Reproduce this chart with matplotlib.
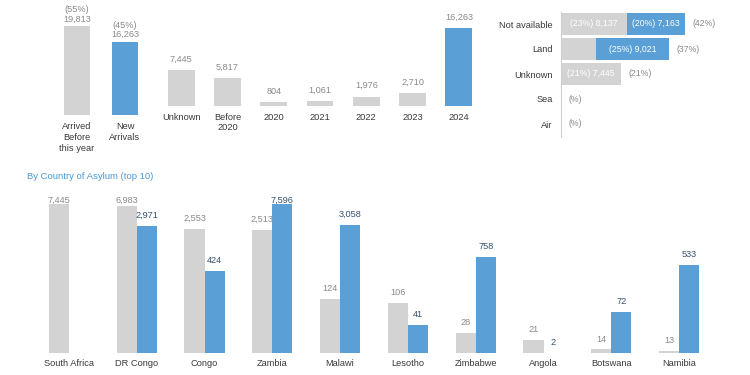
import numpy as np
import matplotlib
matplotlib.use("Agg")
import matplotlib.pyplot as plt
from matplotlib.transforms import blended_transform_factory

plt.rcParams['font.family'] = ['Liberation Sans', 'DejaVu Sans']

GREY = '#d3d3d3'
BLUE = '#5aa0d6'
VAL_GREY = '#8a8a8a'
VAL_DARK = '#35516f'
CAT = '#3a3a3a'
VAL_FS = 6.6
CAT_FS = 6.7

# ---- data ----
arrival_cats = ['Arrived\nBefore\nthis year', 'New\nArrivals']
arrival_vals = [19813, 16263]
arrival_pct = ['55%', '45%']

year_cats = ['Unknown', 'Before\n2020', '2020', '2021', '2022', '2023', '2024']
year_vals = [7445, 5817, 804, 1061, 1976, 2710, 16263]

route_cats = ['Not available', 'Land', 'Unknown', 'Sea', 'Air']
route_before = [8137, 4329, 7445, 0, 0]
route_new = [7163, 9021, 0, 0, 0]
route_before_lbl = ['(23%) 8,137', '', '(21%) 7,445', '', '']
route_new_lbl = ['(20%) 7,163', '(25%) 9,021', '', '', '']
route_total_pct = ['(42%)', '(37%)', '(21%)', '(%)', '(%)']

countries = ['South Africa', 'DR Congo', 'Congo', 'Zambia', 'Malawi',
             'Lesotho', 'Zimbabwe', 'Angola', 'Botswana', 'Namibia']
asylum_before = [7445, 6983, 2553, 2513, 124, 106, 28, 21, 14, 13]
asylum_new = [None, 2971, 424, 7596, 3058, 41, 758, 2, 72, 533]

W, H = 750, 375
fig = plt.figure(figsize=(W / 100, H / 100), dpi=100)


def px_axes(l, t, r, b):
    return fig.add_axes([l / W, 1 - b / H, (r - l) / W, (b - t) / H])


def clean(ax):
    for s in ax.spines.values():
        s.set_visible(False)
    ax.set_yticks([])


# -- arrived before / new arrivals --
ax1 = px_axes(53, 10, 149, 115)
x1 = np.arange(len(arrival_vals))
ax1.bar(x1, arrival_vals, width=0.56, color=[GREY, BLUE])
ax1.set_xlim(-0.5, 1.5)
ax1.set_ylim(0, 23400)
for i, v in enumerate(arrival_vals):
    ax1.annotate(f'({arrival_pct[i]})\n{v:,}', (i, v), xytext=(0, 2),
                 textcoords='offset points', ha='center', va='bottom',
                 fontsize=VAL_FS, color=VAL_GREY, linespacing=1.05)
ax1.set_xticks(x1, arrival_cats, fontsize=CAT_FS, color=CAT, linespacing=1.3)
ax1.tick_params(axis='x', length=0, pad=5)
clean(ax1)

# -- by year of arrival --
ax2 = px_axes(158, 10, 482, 106)
x2 = np.arange(len(year_vals))
ax2.bar(x2, year_vals, width=0.58,
        color=[GREY] * (len(year_vals) - 1) + [BLUE])
ax2.set_xlim(-0.5, len(year_vals) - 0.5)
ax2.set_ylim(0, 20000)
for i, v in enumerate(year_vals):
    ax2.annotate(f'{v:,}', (i, v), xytext=(0, 4.5), textcoords='offset points',
                 ha='center', va='bottom', fontsize=VAL_FS, color=VAL_GREY)
ax2.set_xticks(x2, year_cats, fontsize=CAT_FS, color=CAT, linespacing=1.2)
ax2.tick_params(axis='x', length=0, pad=5)
clean(ax2)

# -- by route --
ax3 = px_axes(561, 11.5, 745, 136.5)
y3 = np.arange(len(route_cats))
ax3.barh(y3, route_before, height=0.88, color=GREY)
ax3.barh(y3, route_new, left=route_before, height=0.88, color=BLUE)
ax3.set_xlim(0, 22700)
ax3.set_ylim(len(route_cats) - 0.5, -0.5)
for i in range(len(route_cats)):
    b, n = route_before[i], route_new[i]
    if route_before_lbl[i]:
        ax3.text(b / 2, i, route_before_lbl[i], ha='center', va='center',
                 fontsize=6.3, color='white')
    if route_new_lbl[i]:
        ax3.text(b + n / 2, i, route_new_lbl[i], ha='center', va='center',
                 fontsize=6.3, color='white')
    ax3.annotate(route_total_pct[i], (b + n, i), xytext=(5.5, 0),
                 textcoords='offset points', ha='left', va='center',
                 fontsize=6.3, color=VAL_GREY)
for s in ax3.spines.values():
    s.set_visible(False)
ax3.spines['left'].set_visible(True)
ax3.spines['left'].set_color('#cfcfcf')
ax3.set_xticks([])
ax3.set_yticks(y3, route_cats, fontsize=CAT_FS, color=CAT)
ax3.tick_params(axis='y', length=0, pad=6)

# -- by country of asylum (log scale) --
fig.text(27 / W, 1 - 176 / H, 'By Country of Asylum (top 10)', fontsize=6.8,
         color='#4a98d3', va='center', ha='left')

ax4 = px_axes(35, 204, 713, 353)
ax4.set_yscale('log')
lo, hi = 12, 7600
ax4.set_ylim(lo, hi)
ax4.set_xlim(-0.5, len(countries) - 0.5)
x4 = np.arange(len(countries))
bw = 0.295
trans = blended_transform_factory(ax4.transData, ax4.transAxes)


def frac(v):
    return np.log(v / lo) / np.log(hi / lo)


for i in range(len(countries)):
    vb = asylum_before[i]
    ax4.bar(x4[i] - bw / 2, vb - 1, bottom=1, width=bw, color=GREY)
    yl = min(max(frac(vb), 0) + 0.07, 1.025)
    ax4.text(x4[i] - bw / 2, yl, f'{vb:,}', transform=trans, ha='center',
             va='center', fontsize=VAL_FS, color=VAL_GREY, clip_on=False)
    vn = asylum_new[i]
    if vn is None:
        continue
    ax4.bar(x4[i] + bw / 2, vn - 1, bottom=1, width=bw, color=BLUE)
    yl = min(max(frac(vn), 0) + 0.07, 1.025)
    ax4.text(x4[i] + bw / 2, yl, f'{vn:,}', transform=trans, ha='center',
             va='center', fontsize=VAL_FS, color=VAL_DARK, clip_on=False)

for s in ax4.spines.values():
    s.set_visible(False)
ax4.tick_params(axis='y', which='both', left=False, labelleft=False)
ax4.set_xticks(x4, countries, fontsize=CAT_FS, color=CAT)
ax4.tick_params(axis='x', length=0, pad=4)

fig.savefig('out.png', dpi=100)
